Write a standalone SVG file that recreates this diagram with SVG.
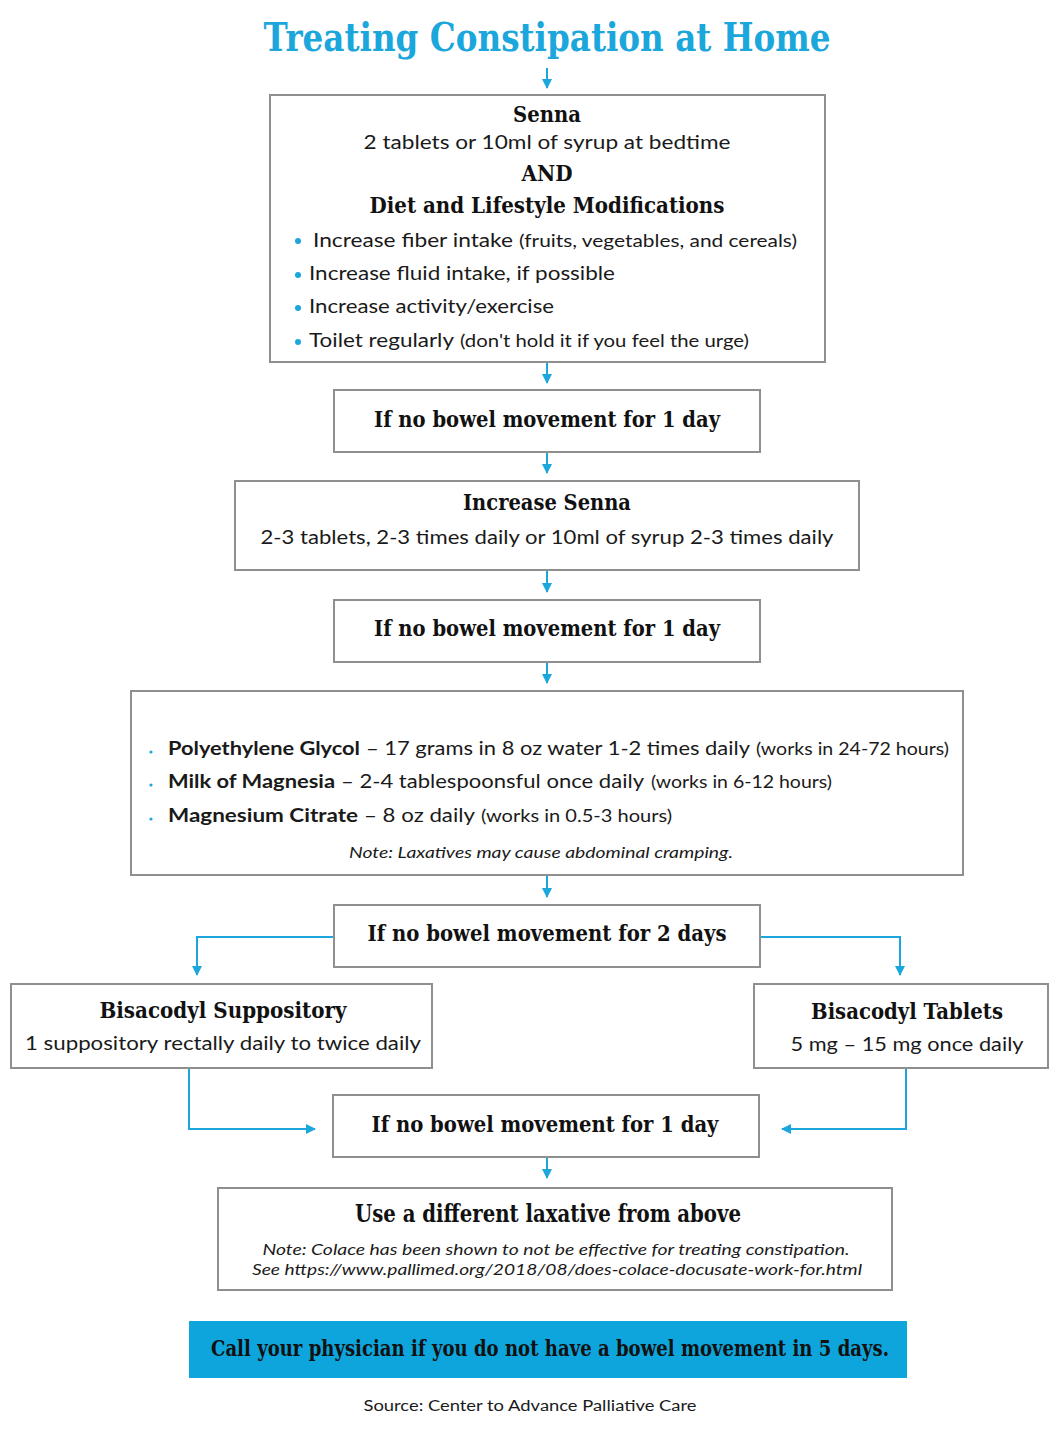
<svg xmlns="http://www.w3.org/2000/svg" width="1060" height="1440" viewBox="0 0 1060 1440">
<style>
.box{fill:#fff;stroke:#8f8f8f;stroke-width:2}
.slab{font-family:"DejaVu Serif","Liberation Serif",serif;font-weight:bold;fill:#111}
.sans{font-family:"Lato","Noto Sans","Liberation Sans",sans-serif;fill:#1a1a1a}
.b{font-weight:bold}
.it{font-style:italic}
.conn{fill:none;stroke:#1ba6dc;stroke-width:2}
.dot{fill:#1ba6dc}
</style>
<defs>
<marker id="ah" viewBox="0 0 10 10" refX="9" refY="5" markerWidth="5" markerHeight="5" orient="auto" markerUnits="strokeWidth">
<path d="M0,0 L10,5 L0,10 Z" fill="#1ba6dc"/>
</marker>
</defs>
<rect width="1060" height="1440" fill="#fff"/>

<g id="title">
<text x="547" y="51" text-anchor="middle" class="slab" style="fill:#1ba6dc" font-size="39" textLength="567" lengthAdjust="spacingAndGlyphs">Treating Constipation at Home</text>
</g>

<g id="connectors">
<path class="conn" d="M547,68 V88" marker-end="url(#ah)"/>
<path class="conn" d="M547,363 V383" marker-end="url(#ah)"/>
<path class="conn" d="M547,453 V473" marker-end="url(#ah)"/>
<path class="conn" d="M547,571 V592" marker-end="url(#ah)"/>
<path class="conn" d="M547,663 V683" marker-end="url(#ah)"/>
<path class="conn" d="M547,876 V897" marker-end="url(#ah)"/>
<path class="conn" d="M334,937 H197 V975" marker-end="url(#ah)"/>
<path class="conn" d="M760,937 H900 V975" marker-end="url(#ah)"/>
<path class="conn" d="M189,1069 V1129 H315" marker-end="url(#ah)"/>
<path class="conn" d="M906,1069 V1129 H782" marker-end="url(#ah)"/>
<path class="conn" d="M547,1158 V1178" marker-end="url(#ah)"/>
</g>

<g id="n1">
<rect class="box" x="270" y="95" width="555" height="267"/>
<text x="547" y="122" text-anchor="middle" class="slab" font-size="23" textLength="68" lengthAdjust="spacingAndGlyphs">Senna</text>
<text x="547" y="149" text-anchor="middle" class="sans" font-size="19.5" textLength="367" lengthAdjust="spacingAndGlyphs">2 tablets or 10ml of syrup at bedtime</text>
<text x="547" y="181" text-anchor="middle" class="slab" font-size="23" textLength="51" lengthAdjust="spacingAndGlyphs">AND</text>
<text x="547" y="213" text-anchor="middle" class="slab" font-size="23" textLength="355" lengthAdjust="spacingAndGlyphs">Diet and Lifestyle Modifications</text>
<circle class="dot" cx="298" cy="241" r="3"/>
<text x="313" y="247" class="sans" font-size="19.5" textLength="200" lengthAdjust="spacingAndGlyphs">Increase fiber intake</text>
<text x="519" y="247" class="sans" font-size="17" textLength="278" lengthAdjust="spacingAndGlyphs">(fruits, vegetables, and cereals)</text>
<circle class="dot" cx="298" cy="275" r="3"/>
<text x="309" y="280" class="sans" font-size="19.5" textLength="306" lengthAdjust="spacingAndGlyphs">Increase fluid intake, if possible</text>
<circle class="dot" cx="298" cy="308" r="3"/>
<text x="309" y="313" class="sans" font-size="19.5" textLength="245" lengthAdjust="spacingAndGlyphs">Increase activity/exercise</text>
<circle class="dot" cx="298" cy="342" r="3"/>
<text x="309" y="347" class="sans" font-size="19.5" textLength="145" lengthAdjust="spacingAndGlyphs">Toilet regularly</text>
<text x="460" y="347" class="sans" font-size="17" textLength="289" lengthAdjust="spacingAndGlyphs">(don't hold it if you feel the urge)</text>
</g>

<g id="n2">
<rect class="box" x="334" y="390" width="426" height="62"/>
<text x="547" y="427" text-anchor="middle" class="slab" font-size="23" textLength="346" lengthAdjust="spacingAndGlyphs">If no bowel movement for 1 day</text>
</g>

<g id="n3">
<rect class="box" x="235" y="481" width="624" height="89"/>
<text x="547" y="510" text-anchor="middle" class="slab" font-size="23" textLength="168" lengthAdjust="spacingAndGlyphs">Increase Senna</text>
<text x="547" y="544" text-anchor="middle" class="sans" font-size="19.5" textLength="573" lengthAdjust="spacingAndGlyphs">2-3 tablets, 2-3 times daily or 10ml of syrup 2-3 times daily</text>
</g>

<g id="n4">
<rect class="box" x="334" y="600" width="426" height="62"/>
<text x="547" y="636" text-anchor="middle" class="slab" font-size="23" textLength="346" lengthAdjust="spacingAndGlyphs">If no bowel movement for 1 day</text>
</g>

<g id="n5">
<rect class="box" x="131" y="691" width="832" height="184"/>
<circle class="dot" cx="151" cy="752" r="1.6"/>
<text x="168" y="755" class="sans b" font-size="19.5" textLength="192" lengthAdjust="spacingAndGlyphs">Polyethylene Glycol</text>
<text x="366" y="755" class="sans" font-size="19.5" textLength="384" lengthAdjust="spacingAndGlyphs">– 17 grams in 8 oz water 1-2 times daily</text>
<text x="756" y="755" class="sans" font-size="17" textLength="193" lengthAdjust="spacingAndGlyphs">(works in 24-72 hours)</text>
<circle class="dot" cx="151" cy="785" r="1.6"/>
<text x="168" y="788" class="sans b" font-size="19.5" textLength="167" lengthAdjust="spacingAndGlyphs">Milk of Magnesia</text>
<text x="341" y="788" class="sans" font-size="19.5" textLength="303" lengthAdjust="spacingAndGlyphs">– 2-4 tablespoonsful once daily</text>
<text x="651" y="788" class="sans" font-size="17" textLength="181" lengthAdjust="spacingAndGlyphs">(works in 6-12 hours)</text>
<circle class="dot" cx="151" cy="819" r="1.6"/>
<text x="168" y="822" class="sans b" font-size="19.5" textLength="190" lengthAdjust="spacingAndGlyphs">Magnesium Citrate</text>
<text x="364" y="822" class="sans" font-size="19.5" textLength="111" lengthAdjust="spacingAndGlyphs">– 8 oz daily</text>
<text x="481" y="822" class="sans" font-size="17" textLength="191" lengthAdjust="spacingAndGlyphs">(works in 0.5-3 hours)</text>
<text x="541" y="858" text-anchor="middle" class="sans it" font-size="15" textLength="384" lengthAdjust="spacingAndGlyphs">Note: Laxatives may cause abdominal cramping.</text>
</g>

<g id="n6">
<rect class="box" x="334" y="905" width="426" height="62"/>
<text x="547" y="941" text-anchor="middle" class="slab" font-size="23" textLength="359" lengthAdjust="spacingAndGlyphs">If no bowel movement for 2 days</text>
</g>

<g id="n7">
<rect class="box" x="11" y="984" width="421" height="84"/>
<text x="223" y="1018" text-anchor="middle" class="slab" font-size="23" textLength="247" lengthAdjust="spacingAndGlyphs">Bisacodyl Suppository</text>
<text x="223" y="1050" text-anchor="middle" class="sans" font-size="19.5" textLength="396" lengthAdjust="spacingAndGlyphs">1 suppository rectally daily to twice daily</text>
</g>

<g id="n8">
<rect class="box" x="754" y="984" width="294" height="84"/>
<text x="907" y="1019" text-anchor="middle" class="slab" font-size="23" textLength="192" lengthAdjust="spacingAndGlyphs">Bisacodyl Tablets</text>
<text x="907" y="1051" text-anchor="middle" class="sans" font-size="19.5" textLength="233" lengthAdjust="spacingAndGlyphs">5 mg – 15 mg once daily</text>
</g>

<g id="n9">
<rect class="box" x="333" y="1095" width="426" height="62"/>
<text x="545" y="1132" text-anchor="middle" class="slab" font-size="23" textLength="347" lengthAdjust="spacingAndGlyphs">If no bowel movement for 1 day</text>
</g>

<g id="n10">
<rect class="box" x="218" y="1188" width="674" height="102"/>
<text x="548" y="1222" text-anchor="middle" class="slab" font-size="24" textLength="386" lengthAdjust="spacingAndGlyphs">Use a different laxative from above</text>
<text x="556" y="1255" text-anchor="middle" class="sans it" font-size="15" textLength="587" lengthAdjust="spacingAndGlyphs">Note: Colace has been shown to not be effective for treating constipation.</text>
<text x="557" y="1275" text-anchor="middle" class="sans it" font-size="15" textLength="610" lengthAdjust="spacingAndGlyphs">See https://www.pallimed.org/2018/08/does-colace-docusate-work-for.html</text>
</g>

<g id="banner">
<rect x="189" y="1321" width="718" height="57" fill="#0ea5dc"/>
<text x="550" y="1356" text-anchor="middle" class="slab" font-size="22" textLength="678" lengthAdjust="spacingAndGlyphs">Call your physician if you do not have a bowel movement in 5 days.</text>
</g>

<g id="source">
<text x="530" y="1411" text-anchor="middle" class="sans" font-size="15.5" textLength="333" lengthAdjust="spacingAndGlyphs">Source: Center to Advance Palliative Care</text>
</g>
</svg>
